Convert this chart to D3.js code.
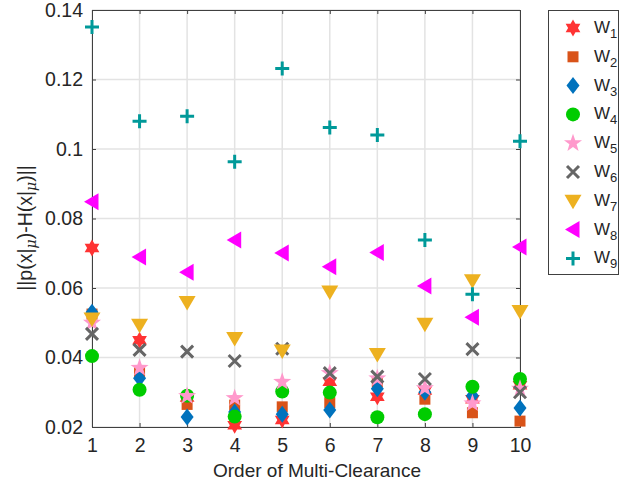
<!DOCTYPE html>
<html><head><meta charset="utf-8">
<script src="https://cdn.jsdelivr.net/npm/d3@7"></script>
<style>body{margin:0;background:#fff}svg{display:block}text{font-family:"Liberation Sans",Arial,Helvetica,sans-serif;fill:#262626}</style>
</head><body>
<script>
const orders = [1,2,3,4,5,6,7,8,9,10];
const yTicks = [0.02,0.04,0.06,0.08,0.1,0.12,0.14];
const seriesNames = ["1","2","3","4","5","6","7","8","9"];
const W1 = [0.0715,0.0450,0.0285,0.0205,0.0220,0.0330,0.0287,0.0305,0.0280,0.0320];
const W2 = [0.0525,0.0358,0.0265,0.0263,0.0258,0.0270,0.0330,0.0280,0.0241,0.0217];
const W3 = [0.0530,0.0340,0.0229,0.0243,0.0237,0.0249,0.0310,0.0300,0.0290,0.0255];
const W4 = [0.0404,0.0307,0.0290,0.0230,0.0302,0.0299,0.0228,0.0237,0.0316,0.0338];
const W5 = [0.0500,0.0370,0.0289,0.0283,0.0330,0.0355,0.0340,0.0312,0.0268,0.0310];
const W6 = [0.0468,0.0422,0.0417,0.0390,0.0425,0.0355,0.0345,0.0338,0.0424,0.0300];
const W7 = [0.0512,0.0494,0.0560,0.0456,0.0420,0.0590,0.0410,0.0497,0.0622,0.0534];
const W8 = [0.0848,0.0689,0.0645,0.0738,0.0701,0.0661,0.0702,0.0606,0.0516,0.0718];
const W9 = [0.1351,0.1080,0.1094,0.0963,0.1232,0.1062,0.1040,0.0738,0.0582,0.1022];
const seriesValues = [W1,W2,W3,W4,W5,W6,W7,W8,W9];
const colors = ["#FF3333","#D95319","#0072BD","#00CC00","#FF99CC","#666666","#EDB120","#FF00FF","#009999"];
const shapes = ["hexagram","square","diamond","circle","pentagram","x","tridown","trileft","plus"];

const width=620,height=492;
const svg=d3.select("body").append("svg").attr("width",width).attr("height",height);
const x=d3.scaleLinear().domain([1,10]).range([92,520]);
const y=d3.scaleLinear().domain([0.02,0.14]).range([427,10]);

function star(n,ro,ri){let p=[];for(let i=0;i<2*n;i++){const a=-Math.PI/2+i*Math.PI/n;const r=i%2?ri:ro;p.push([r*Math.cos(a),r*Math.sin(a)]);}return "M"+p.map(d=>d.join(",")).join("L")+"Z";}
function shapePath(t){
  switch(t){
    case "hexagram": return star(6,8.5,4.9);
    case "pentagram": return star(5,9.5,3.8);
    case "square": return "M-5.5,-5.5H5.5V5.5H-5.5Z";
    case "diamond": return "M0,-8.5L6.5,0L0,8.5L-6.5,0Z";
    case "circle": return "M7,0A7,7 0 1,1 -7,0A7,7 0 1,1 7,0Z";
    case "tridown": return "M-8.5,-6L8.5,-6L0,8.5Z";
    case "trileft": return "M-8,0L6.5,-8.5L6.5,8.5Z";
    case "x": return "M-6,-6L6,6M-6,6L6,-6";
    case "plus": return "M-7,0H7M0,-7V7";
  }
}
function drawMarker(g,t,c){
  const p=g.append("path").attr("d",shapePath(t));
  if(t==="x"||t==="plus") p.attr("fill","none").attr("stroke",c).attr("stroke-width",3);
  else p.attr("fill",c);
}

// grid
const grid=svg.append("g");
orders.forEach(o=>grid.append("line").attr("x1",x(o)).attr("x2",x(o)).attr("y1",10).attr("y2",427).attr("stroke","#e3e3e3").attr("stroke-width",1.5));
yTicks.forEach(v=>grid.append("line").attr("x1",92).attr("x2",520).attr("y1",y(v)).attr("y2",y(v)).attr("stroke","#e3e3e3").attr("stroke-width",1.5));

// axes
const ax=svg.append("g").attr("transform","translate(0,427)").call(d3.axisBottom(x).tickValues(orders).tickSize(-4).tickPadding(11).tickFormat(d3.format("d")));
const ax2=svg.append("g").attr("transform","translate(0,10)").call(d3.axisTop(x).tickValues(orders).tickSize(-4).tickFormat(""));
const ay=svg.append("g").attr("transform","translate(92,0)").call(d3.axisLeft(y).tickValues(yTicks).tickSize(-4).tickPadding(9).tickFormat(d=>d3.format("")(+d.toFixed(2))));
const ay2=svg.append("g").attr("transform","translate(520,0)").call(d3.axisRight(y).tickValues(yTicks).tickSize(-4).tickFormat(""));
[ax,ax2,ay,ay2].forEach(a=>{a.selectAll("path").attr("stroke","#404040");a.selectAll("line").attr("stroke","#404040");a.selectAll("text").attr("font-size",19.5).attr("fill","#262626").attr("font-family","Liberation Sans, Arial, sans-serif");});

// data
seriesValues.forEach((vals,i)=>{
  const g=svg.append("g");
  vals.forEach((v,j)=>{
    const mg=g.append("g").attr("transform",`translate(${x(orders[j])},${y(v)})`);
    drawMarker(mg,shapes[i],colors[i]);
  });
});

// labels
svg.append("text").attr("x",317).attr("y",477).attr("text-anchor","middle").attr("font-size",19).text("Order of Multi-Clearance");
const yl=svg.append("text").attr("transform","translate(32,228) rotate(-90)").attr("text-anchor","middle").attr("font-size",19.5);
yl.append("tspan").text("||p(x|");
yl.append("tspan").attr("font-family","DejaVu Serif, serif").attr("font-style","italic").attr("font-size",14).attr("dy",4).text("μ");
yl.append("tspan").attr("dy",-4).text(")-H(x|");
yl.append("tspan").attr("font-family","DejaVu Serif, serif").attr("font-style","italic").attr("font-size",14).attr("dy",4).text("μ");
yl.append("tspan").attr("dy",-4).text(")||");

// legend
const lg=svg.append("g");
lg.append("rect").attr("x",548.5).attr("y",10.5).attr("width",70).attr("height",264).attr("fill","#fff").attr("stroke","#404040");
seriesNames.forEach((n,i)=>{
  const yy=28+i*28.8;
  const mg=lg.append("g").attr("transform",`translate(573,${yy})`);
  drawMarker(mg,shapes[i],colors[i]);
  const t=lg.append("text").attr("x",594).attr("y",yy+5).attr("font-size",17);
  t.append("tspan").text("W");
  t.append("tspan").attr("font-size",13).attr("dy",5).text(n);
});
</script>
</body></html>
